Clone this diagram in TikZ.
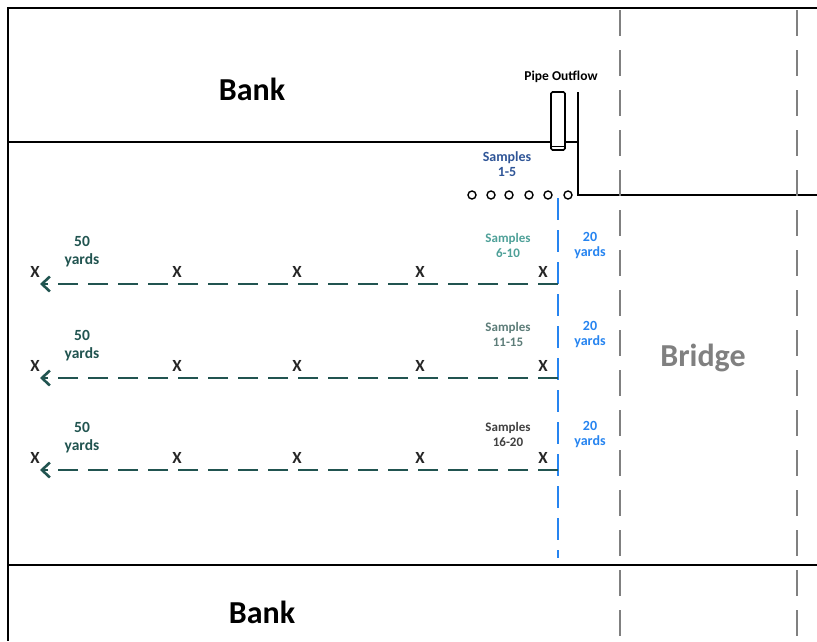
\documentclass[tikz,border=0pt]{standalone}
\usepackage{fontspec}
\setmainfont{Carlito}
\usetikzlibrary{arrows.meta}

\definecolor{rowteal}{RGB}{33,84,80}
\definecolor{gaugeblue}{RGB}{38,132,240}
\definecolor{lanegray}{RGB}{128,128,128}
\definecolor{sampTop}{RGB}{47,85,151}
\definecolor{sampA}{RGB}{78,160,152}
\definecolor{sampB}{RGB}{92,124,120}
\definecolor{sampC}{RGB}{64,64,64}

\begin{document}
\begin{tikzpicture}[
  x=1pt, y=-1pt,
  font=\bfseries,
  edge/.style={line width=2pt},
  lane/.style={draw=lanegray, line width=2.2pt, dash pattern=on 26pt off 14pt},
  gauge/.style={draw=gaugeblue, line width=2.6pt, dash pattern=on 22pt off 10pt},
  transect/.style={draw=rowteal, line width=2.6pt, dash pattern=on 20pt off 10pt,
    -{Straight Barb[length=8pt, width=15pt]}},
  big/.style={inner sep=0pt, font=\fontsize{32}{36}\selectfont\bfseries},
  xmark/.style={inner sep=0pt, text=black!85, font=\fontsize{17}{18}\selectfont\bfseries},
  note/.style={align=center, inner sep=0pt, font=\fontsize{13}{15}\selectfont\bfseries},
  sample/.style={circle, draw, line width=1.4pt, minimum size=8pt, inner sep=0pt, fill=white},
]
  \useasboundingbox (0,0) rectangle (817,641);

  % frame and banks
  \draw[edge] (817,8) -- (8,8) -- (8,641);
  \draw[edge] (8,142) -- (578,142);
  \draw[edge] (578,92) -- (578,195) -- (817,195);
  \draw[line width=2.8pt] (8,565) -- (817,565);

  % bridge lanes
  \draw[lane] (620,10) -- (620,641);
  \draw[lane] (797,10) -- (797,641);

  % pipe outflow
  \draw[line width=1.6pt, fill=white, rounded corners=1.5pt] (551,92) rectangle (565,150);
  \draw[line width=0.9pt] (552,146.5) -- (564,146.5);
  \node[note, font=\fontsize{13.5}{15}\selectfont\bfseries] (pipe) at (561,77) {Pipe Outflow};

  \node[big] (bankTop) at (252,89) {Bank};
  \node[big] (bankBot) at (262,612) {Bank};
  \node[big, text=lanegray] (bridge) at (703,358) {Bridge};

  % samples 1-5
  \node[note, text=sampTop, font=\fontsize{14}{15}\selectfont\bfseries] (samp0) at (507,164) {Samples\\1-5};
  \foreach \cx [count=\i] in {472,491,509,529,548,568}
    \node[sample] (s\i) at (\cx,195) {};

  % 20 yard line
  \coordinate (gTop) at (558,198);
  \coordinate (gBot) at (558,558);
  \draw[gauge] (gTop) -- (gBot);

  % transects
  \foreach \ry/\sy/\ty/\sc/\st [count=\r] in
    {284/245.5/246/sampA/6-10, 378/334/335/sampB/11-15, 470/434/435/sampC/16-20} {
    \coordinate (start\r) at (558,\ry);
    \coordinate (tip\r) at (40,\ry);
    \draw[transect] (start\r) -- (tip\r);
    \foreach \xx [count=\k] in {35,177,297,420,543}
      \node[xmark] (x\r\k) at (\xx,\ry-12) {X};
    \node[note, text=rowteal, font=\fontsize{15.5}{18}\selectfont\bfseries] (far\r) at (82,\ry-32) {50\\yards};
    \node[note, text=\sc] (samp\r) at (508,\sy) {Samples\\\st};
    \node[note, text=gaugeblue, font=\fontsize{14}{15}\selectfont\bfseries] (gap\r) at (590,\ty) {20\\yards};
  }
\end{tikzpicture}
\end{document}
